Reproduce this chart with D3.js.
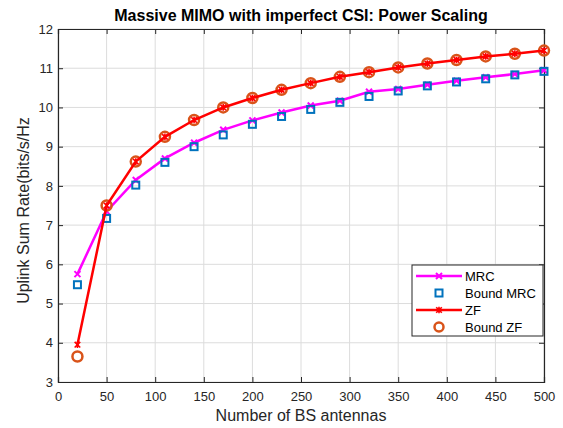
<!DOCTYPE html>
<html><head><meta charset="utf-8">
<script src="https://cdn.jsdelivr.net/npm/d3@7"></script>
<style>body{margin:0;background:#fff;font-family:"Liberation Sans",Arial,sans-serif}</style>
</head><body><svg id="c" width="563" height="428"></svg>
<script>
const antennas = [20,50,80,110,140,170,200,230,260,290,320,350,380,410,440,470,500];
const mrc      = [5.75,7.35,8.15,8.70,9.10,9.43,9.67,9.87,10.05,10.17,10.40,10.47,10.58,10.68,10.77,10.85,10.95];
const boundMrc = [5.48,7.17,8.02,8.60,9.00,9.30,9.57,9.77,9.95,10.13,10.28,10.42,10.55,10.65,10.73,10.83,10.92];
const zf       = [3.95,7.50,8.62,9.25,9.68,10.00,10.24,10.45,10.62,10.78,10.90,11.02,11.12,11.21,11.30,11.37,11.45];
const boundZf  = [3.65,7.50,8.62,9.25,9.68,10.00,10.24,10.45,10.62,10.78,10.90,11.02,11.12,11.21,11.30,11.37,11.45];
const xTicks = [0,50,100,150,200,250,300,350,400,450,500];
const yTicks = [3,4,5,6,7,8,9,10,11,12];
const legendLabels = ["MRC","Bound MRC","ZF","Bound ZF"];

const svg = d3.select("#c");
const L=58,R=544,T=29,B=382;
const x = d3.scaleLinear().domain([0,500]).range([L,R]);
const y = d3.scaleLinear().domain([3,12]).range([B,T]);
const axisCol="#262626", gridCol="#dcdcdc";
const ff = "Liberation Sans, Arial, sans-serif";

// grid
svg.append("g").selectAll("line").data(xTicks).join("line")
  .attr("x1",d=>x(d)).attr("x2",d=>x(d)).attr("y1",T).attr("y2",B).attr("stroke",gridCol).attr("stroke-width",1);
svg.append("g").selectAll("line").data(yTicks).join("line")
  .attr("y1",d=>y(d)).attr("y2",d=>y(d)).attr("x1",L).attr("x2",R).attr("stroke",gridCol).attr("stroke-width",1);

// axes
const xa = svg.append("g").attr("transform",`translate(0,${B})`).call(d3.axisBottom(x).tickValues(xTicks).tickSize(-5).tickPadding(10));
const xt = svg.append("g").attr("transform",`translate(0,${T})`).call(d3.axisTop(x).tickValues(xTicks).tickSize(-5).tickFormat(""));
const ya = svg.append("g").attr("transform",`translate(${L},0)`).call(d3.axisLeft(y).tickValues(yTicks).tickSize(-5).tickPadding(5));
const yr = svg.append("g").attr("transform",`translate(${R},0)`).call(d3.axisRight(y).tickValues(yTicks).tickSize(-5).tickFormat(""));
[xa,xt,ya,yr].forEach(g=>{
  g.select(".domain").attr("stroke",axisCol).attr("stroke-width",1.2);
  g.selectAll(".tick line").attr("stroke",axisCol);
  g.selectAll("text").attr("fill",axisCol).style("font-size","13px").style("font-family",ff);
});

// lines & markers
const line = d3.line().x(d=>x(d[0])).y(d=>y(d[1]));
const mrcPts = antennas.map((a,i)=>[a,mrc[i]]);
const zfPts = antennas.map((a,i)=>[a,zf[i]]);
const bmPts = antennas.map((a,i)=>[a,boundMrc[i]]);
const bzPts = antennas.map((a,i)=>[a,boundZf[i]]);
const magenta="#FF00FF", red="#FF0000", blue="#0072BD", orange="#D95319";

function xMark(g,cx,cy,s,col){
  g.append("path").attr("d",`M${cx-s},${cy-s}L${cx+s},${cy+s}M${cx-s},${cy+s}L${cx+s},${cy-s}`).attr("stroke",col).attr("stroke-width",2).attr("fill","none");
}
function starMark(g,cx,cy,s,col){
  g.append("path").attr("d",`M${cx-s},${cy-s}L${cx+s},${cy+s}M${cx-s},${cy+s}L${cx+s},${cy-s}M${cx},${cy-s*1.2}L${cx},${cy+s*1.2}`).attr("stroke",col).attr("stroke-width",1.6).attr("fill","none");
}

svg.append("path").datum(mrcPts).attr("d",line).attr("fill","none").attr("stroke",magenta).attr("stroke-width",2.5);
const mg = svg.append("g");
mrcPts.forEach(p=>xMark(mg,x(p[0]),y(p[1]),3,magenta));
svg.append("g").selectAll("rect").data(bmPts).join("rect")
  .attr("x",d=>x(d[0])-3.5).attr("y",d=>y(d[1])-3.5).attr("width",7).attr("height",7)
  .attr("fill","none").attr("stroke",blue).attr("stroke-width",2);

svg.append("g").selectAll("circle").data(bzPts).join("circle")
  .attr("cx",d=>x(d[0])).attr("cy",d=>y(d[1])).attr("r",5)
  .attr("fill","none").attr("stroke",orange).attr("stroke-width",2.5);
svg.append("path").datum(zfPts).attr("d",line).attr("fill","none").attr("stroke",red).attr("stroke-width",2.5);
const zg = svg.append("g");
zfPts.forEach(p=>starMark(zg,x(p[0]),y(p[1]),2.8,red));

// title and labels
svg.append("text").attr("x",(L+R)/2).attr("y",21).attr("text-anchor","middle").style("font-family",ff)
  .style("font-size","16px").style("font-weight","bold").attr("fill","#000").text("Massive MIMO with imperfect CSI: Power Scaling");
svg.append("text").attr("x",(L+R)/2).attr("y",421).attr("text-anchor","middle").style("font-family",ff)
  .style("font-size","16px").attr("fill",axisCol).text("Number of BS antennas");
svg.append("text").attr("transform",`translate(29,${(T+B)/2+5}) rotate(-90)`).attr("text-anchor","middle").style("font-family",ff)
  .style("font-size","16px").attr("fill",axisCol).text("Uplink Sum Rate(bits/s/Hz");

// legend
const lg = svg.append("g");
lg.append("rect").attr("x",412).attr("y",265).attr("width",131).attr("height",71).attr("fill","#fff").attr("stroke",axisCol).attr("stroke-width",1);
const ly = [276,293,310,327];
legendLabels.forEach((t,i)=>{
  const yy=ly[i], cx=439;
  if(i===0){ lg.append("line").attr("x1",416).attr("x2",462).attr("y1",yy).attr("y2",yy).attr("stroke",magenta).attr("stroke-width",2.5); xMark(lg,cx,yy,3,magenta);}
  if(i===1){ lg.append("rect").attr("x",cx-3.5).attr("y",yy-3.5).attr("width",7).attr("height",7).attr("fill","none").attr("stroke",blue).attr("stroke-width",2);}
  if(i===2){ lg.append("line").attr("x1",416).attr("x2",462).attr("y1",yy).attr("y2",yy).attr("stroke",red).attr("stroke-width",2.5); starMark(lg,cx,yy,2.8,red);}
  if(i===3){ lg.append("circle").attr("cx",cx).attr("cy",yy).attr("r",4.5).attr("fill","none").attr("stroke",orange).attr("stroke-width",2.5);}
  lg.append("text").attr("x",465).attr("y",yy+4.5).style("font-family",ff).style("font-size","13px").attr("fill","#000").text(t);
});
</script></body></html>
